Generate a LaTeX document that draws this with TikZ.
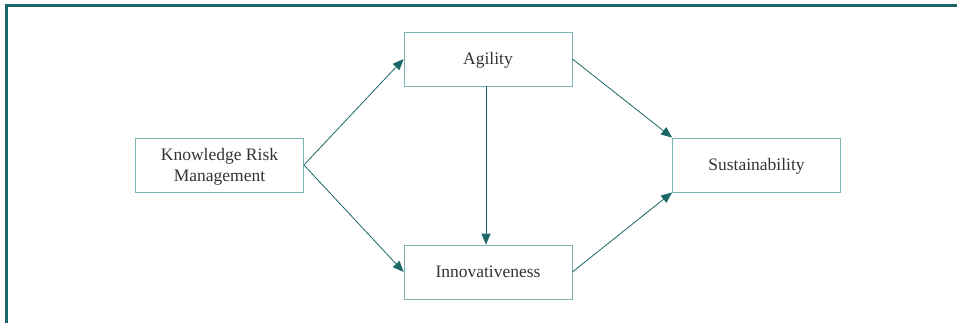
\documentclass[tikz,border=0pt]{standalone}
\usepackage{fontspec}
\setmainfont{Liberation Serif}
\usepackage{tikz}
\usetikzlibrary{arrows.meta}
\definecolor{tealdark}{HTML}{1B6767}
\definecolor{teallight}{HTML}{7FB3B3}

\begin{document}
\begin{tikzpicture}[x=1pt,y=-1pt,
  box/.style={draw=teallight,line width=0.8pt,minimum width=168pt,minimum height=54pt,
    inner sep=0pt,align=center,text=black!80,font=\fontsize{17.5}{21}\selectfont,
    text depth=1pt},
  link/.style={draw=tealdark,line width=0.8pt,-{Triangle[length=11pt,width=9pt]}}]
\useasboundingbox (0,0) rectangle (957,323);
% frame
\draw[tealdark,line width=3.3pt] (6.6,323) -- (6.6,5.7) -- (957,5.7);
% boxes
\node [box] (krm) at (219.5,165) {Knowledge Risk\\Management};
\node [box] (agil) at (488,59) {Agility};
\node [box] (innov) at (488,272) {Innovativeness};
\node [box] (sust) at (756.5,165) {Sustainability};
% links
\draw [link] (krm.east) -- (agil.west);
\draw [link] (krm.east) -- (innov.west);
\draw [link] ([xshift=-2pt]agil.south) -- ([xshift=-2pt]innov.north);
\draw [link] (agil.east) -- (sust.north west);
\draw [link] (innov.east) -- (sust.south west);
\end{tikzpicture}
\end{document}
